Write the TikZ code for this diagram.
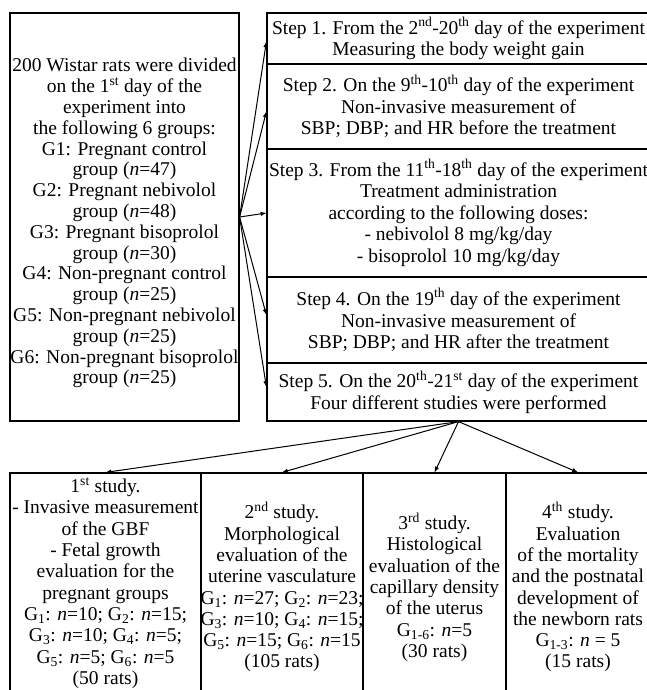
\documentclass[tikz,border=0pt]{standalone}
\usepackage{fontspec}
\setmainfont{Liberation Serif}
\newcommand{\nn}{\textit{n}}
\begin{document}
\begin{tikzpicture}[x=1pt,y=-1pt,line width=1.2pt,
  box/.style={draw,align=center,inner sep=0pt,font=\fontsize{19.5}{20.8}\selectfont},
  stepbox/.style={box,minimum width=383pt,font=\fontsize{19.5}{21.5}\selectfont},
  studybox/.style={box,minimum height=228pt,font=\fontsize{19.5}{21.3}\selectfont},
  flow/.style={-latex,line width=1pt}]
  \useasboundingbox (0,0) rectangle (647,690);
  % groups
  \node[box,minimum width=229pt,minimum height=408pt] (grp) at (124.5,217)
    {\rule{0pt}{26pt}200 Wistar rats were divided\\ on the 1\textsuperscript{st} day of the\\ experiment into\\
     the following 6 groups:\\ G1: Pregnant control\\ group (\nn=47)\\
     G2: Pregnant nebivolol\\ group (\nn=48)\\ G3: Pregnant bisoprolol\\ group (\nn=30)\\
     G4: Non-pregnant control\\ group (\nn=25)\\ G5: Non-pregnant nebivolol\\ group (\nn=25)\\
     G6: Non-pregnant bisoprolol\\ group (\nn=25)};
  % steps
  \node[stepbox,minimum height=51pt] (s1) at (458.5,38.5)
    {Step 1. From the 2\textsuperscript{nd}-20\textsuperscript{th} day of the experiment\\
     Measuring the body weight gain};
  \node[stepbox,minimum height=85pt] (s2) at (458.5,106.5)
    {Step 2. On the 9\textsuperscript{th}-10\textsuperscript{th} day of the experiment\\
     Non-invasive measurement of\\ SBP; DBP; and HR before the treatment};
  \node[stepbox,minimum height=128pt] (s3) at (458.5,213)
    {Step 3. From the 11\textsuperscript{th}-18\textsuperscript{th} day of the experiment\\
     Treatment administration\\ according to the following doses:\\
     - nebivolol 8 mg/kg/day\\ - bisoprolol 10 mg/kg/day};
  \node[stepbox,minimum height=86pt] (s4) at (458.5,320)
    {Step 4. On the 19\textsuperscript{th} day of the experiment\\
     Non-invasive measurement of\\ SBP; DBP; and HR after the treatment};
  \node[stepbox,minimum height=58pt] (s5) at (458.5,392)
    {Step 5. On the 20\textsuperscript{th}-21\textsuperscript{st} day of the experiment\\
     Four different studies were performed};
  % studies
  \node[studybox,minimum width=191pt,minimum height=220pt] (st1) at (105.5,583)
    {1\textsuperscript{st} study.\\ - Invasive measurement\\ of the GBF\\ - Fetal growth\\
     evaluation for the\\ pregnant groups\\
     G\textsubscript{1}: \nn=10; G\textsubscript{2}: \nn=15;\\
     G\textsubscript{3}: \nn=10; G\textsubscript{4}: \nn=5;\\
     G\textsubscript{5}: \nn=5; G\textsubscript{6}: \nn=5\\ (50 rats)};
  \node[studybox,minimum width=162pt] (st2) at (282,587)
    {2\textsuperscript{nd} study.\\ Morphological\\ evaluation of the\\ uterine vasculature\\
     G\textsubscript{1}: \nn=27; G\textsubscript{2}: \nn=23;\\
     G\textsubscript{3}: \nn=10; G\textsubscript{4}: \nn=15;\\
     G\textsubscript{5}: \nn=15; G\textsubscript{6}: \nn=15\\ (105 rats)};
  \node[studybox,minimum width=143pt] (st3) at (434.5,587)
    {3\textsuperscript{rd} study.\\ Histological\\ evaluation of the\\ capillary density\\
     of the uterus\\ G\textsubscript{1-6}: \nn=5\\ (30 rats)};
  \node[studybox,minimum width=144pt] (st4) at (578,587)
    {4\textsuperscript{th} study.\\ Evaluation\\ of the mortality\\ and the postnatal\\
     development of\\ the newborn rats\\ G\textsubscript{1-3}: \nn{} = 5\\ (15 rats)};
  % arrows
  \draw[flow] (grp.east) -- ([yshift=-3pt]s1.west);
  \draw[flow] (grp.east) -- ([yshift=-5pt]s2.west);
  \draw[flow] (grp.east) -- (s3.west);
  \draw[flow] (grp.east) -- ([yshift=5pt]s4.west);
  \draw[flow] (grp.east) -- ([yshift=5pt]s5.west);
  \draw[flow] (s5.south) -- (st1.north);
  \draw[flow] (s5.south) -- (st2.north);
  \draw[flow] (s5.south) -- (st3.north);
  \draw[flow] (s5.south) -- (st4.north);
\end{tikzpicture}
\end{document}
